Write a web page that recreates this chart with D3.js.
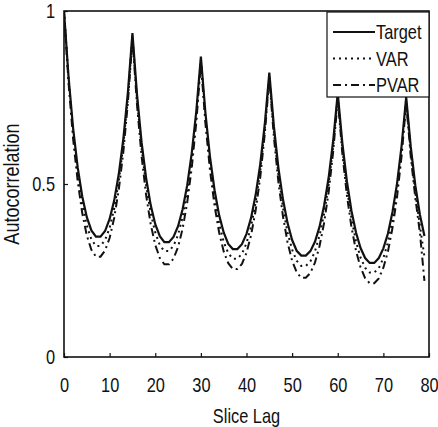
<!DOCTYPE html>
<html>
<head>
<meta charset="utf-8">
<script src="https://cdn.jsdelivr.net/npm/d3@7"></script>
<style>
  html, body { margin: 0; padding: 0; background: #fff; }
  svg text { font-family: "Liberation Sans", Arial, sans-serif; fill: #111; }
</style>
</head>
<body>
<div id="chart"></div>
<script>
// Slice lags 0..79
const lags = d3.range(0, 80);

const target = [
  1.000, 0.809, 0.661, 0.548, 0.464, 0.404, 0.366, 0.348, 0.348, 0.364,
  0.399, 0.452, 0.528, 0.630, 0.764, 0.936, 0.759, 0.621, 0.517, 0.439,
  0.384, 0.349, 0.332, 0.332, 0.347, 0.378, 0.427, 0.496, 0.589, 0.711,
  0.868, 0.705, 0.578, 0.482, 0.410, 0.360, 0.327, 0.312, 0.312, 0.326,
  0.356, 0.402, 0.468, 0.556, 0.672, 0.822, 0.667, 0.546, 0.455, 0.387,
  0.338, 0.307, 0.293, 0.293, 0.306, 0.333, 0.376, 0.437, 0.518, 0.625,
  0.763, 0.619, 0.508, 0.423, 0.360, 0.315, 0.286, 0.272, 0.272, 0.286,
  0.314, 0.357, 0.419, 0.502, 0.611, 0.751, 0.608, 0.496, 0.412, 0.350
];

const varSeries = [
  1.000, 0.801, 0.647, 0.529, 0.442, 0.380, 0.340, 0.321, 0.321, 0.338,
  0.373, 0.429, 0.507, 0.612, 0.750, 0.928, 0.746, 0.604, 0.497, 0.416,
  0.360, 0.323, 0.306, 0.306, 0.321, 0.353, 0.404, 0.475, 0.570, 0.696,
  0.858, 0.690, 0.559, 0.460, 0.386, 0.333, 0.300, 0.284, 0.284, 0.298,
  0.329, 0.377, 0.446, 0.537, 0.657, 0.812, 0.651, 0.526, 0.431, 0.360,
  0.310, 0.278, 0.263, 0.263, 0.276, 0.305, 0.350, 0.413, 0.498, 0.609,
  0.753, 0.604, 0.488, 0.400, 0.334, 0.287, 0.258, 0.244, 0.244, 0.257,
  0.286, 0.332, 0.396, 0.482, 0.595, 0.741, 0.592, 0.476, 0.380, 0.290
];

const pvar = [
  1.000, 0.792, 0.630, 0.508, 0.416, 0.351, 0.310, 0.290, 0.290, 0.308,
  0.344, 0.402, 0.483, 0.592, 0.735, 0.920, 0.729, 0.581, 0.468, 0.384,
  0.324, 0.286, 0.268, 0.268, 0.284, 0.318, 0.371, 0.446, 0.547, 0.679,
  0.850, 0.675, 0.540, 0.437, 0.360, 0.305, 0.271, 0.254, 0.254, 0.269,
  0.301, 0.352, 0.423, 0.518, 0.644, 0.805, 0.636, 0.505, 0.406, 0.331,
  0.278, 0.245, 0.229, 0.229, 0.243, 0.273, 0.320, 0.387, 0.476, 0.594,
  0.745, 0.589, 0.468, 0.376, 0.307, 0.259, 0.228, 0.213, 0.213, 0.227,
  0.258, 0.305, 0.373, 0.463, 0.582, 0.735, 0.580, 0.460, 0.360, 0.220
];

const seriesNames = ['Target', 'VAR', 'PVAR'];
const seriesDash = { 'Target': null, 'VAR': '2,4', 'PVAR': '8,4,2,4' };
const xTicks = [0, 10, 20, 30, 40, 50, 60, 70, 80];
const yTicks = [0, 0.5, 1];

const W = 438, H = 427;
const margin = { top: 11, right: 9, bottom: 70, left: 64 };
const w = W - margin.left - margin.right;
const h = H - margin.top - margin.bottom;
const squeeze = 0.82; // the original font is a narrow face

const svg = d3.select('#chart').append('svg')
  .attr('width', W)
  .attr('height', H);

const g = svg.append('g').attr('transform', `translate(${margin.left},${margin.top})`);

const x = d3.scaleLinear().domain([0, 80]).range([0, w]);
const y = d3.scaleLinear().domain([0, 1]).range([h, 0]);

// axes, ticks pointing inward
const xAxis = g.append('g')
  .attr('transform', `translate(0,${h})`)
  .call(d3.axisBottom(x).tickValues(xTicks).tickSize(-4).tickPadding(21).tickFormat(d3.format('d')));
const yAxis = g.append('g')
  .call(d3.axisLeft(y).tickValues(yTicks).tickSize(-4).tickPadding(9).tickFormat(d => d === 0.5 ? '0.5' : String(d)));

[xAxis, yAxis].forEach(a => {
  a.select('.domain').remove();
  a.selectAll('line').attr('stroke', '#111').attr('stroke-width', 1.2);
  a.selectAll('text').attr('font-size', 20).style('font-family', null);
});
// squeeze tick labels horizontally around their anchor
xAxis.selectAll('text').attr('transform', `scale(${squeeze},1)`);
yAxis.selectAll('text')
  .attr('x', null)
  .attr('transform', `translate(-9,0) scale(${squeeze},1)`);

// frame
g.append('rect')
  .attr('width', w)
  .attr('height', h)
  .attr('fill', 'none')
  .attr('stroke', '#111')
  .attr('stroke-width', 1.6);

const data = { 'Target': target, 'VAR': varSeries, 'PVAR': pvar };

const line = d3.line()
  .x((d, i) => x(lags[i]))
  .y(d => y(d));

g.append('defs').append('clipPath').attr('id', 'clip')
  .append('rect').attr('width', w).attr('height', h);

const lines = g.append('g').attr('clip-path', 'url(#clip)');
seriesNames.slice().reverse().forEach(name => {
  lines.append('path')
    .datum(data[name])
    .attr('d', line)
    .attr('fill', 'none')
    .attr('stroke', '#111')
    .attr('stroke-width', name === 'Target' ? 2.2 : 2)
    .attr('stroke-dasharray', seriesDash[name]);
});

// legend
const legend = g.append('g').attr('transform', `translate(${w - 102},1)`);
legend.append('rect')
  .attr('width', 102)
  .attr('height', 85)
  .attr('fill', '#fff')
  .attr('stroke', '#111')
  .attr('stroke-width', 1.2);

const items = legend.selectAll('g.item')
  .data(seriesNames)
  .enter().append('g')
  .attr('class', 'item')
  .attr('transform', (d, i) => `translate(0,${20 + i * 26.5})`);

items.append('line')
  .attr('x1', 6).attr('x2', 48)
  .attr('stroke', '#111')
  .attr('stroke-width', 2)
  .attr('stroke-dasharray', d => seriesDash[d]);

items.append('text')
  .attr('transform', `translate(49,0) scale(${squeeze},1)`)
  .attr('dy', '0.35em')
  .attr('font-size', 20)
  .text(d => d);

// axis titles
svg.append('text')
  .attr('transform', `translate(${margin.left + w / 2},423) scale(${squeeze},1)`)
  .attr('text-anchor', 'middle')
  .attr('font-size', 20)
  .text('Slice Lag');

svg.append('text')
  .attr('transform', `translate(19,${margin.top + h / 2}) rotate(-90) scale(${squeeze},1)`)
  .attr('text-anchor', 'middle')
  .attr('font-size', 22)
  .text('Autocorrelation');
</script>
</body>
</html>
